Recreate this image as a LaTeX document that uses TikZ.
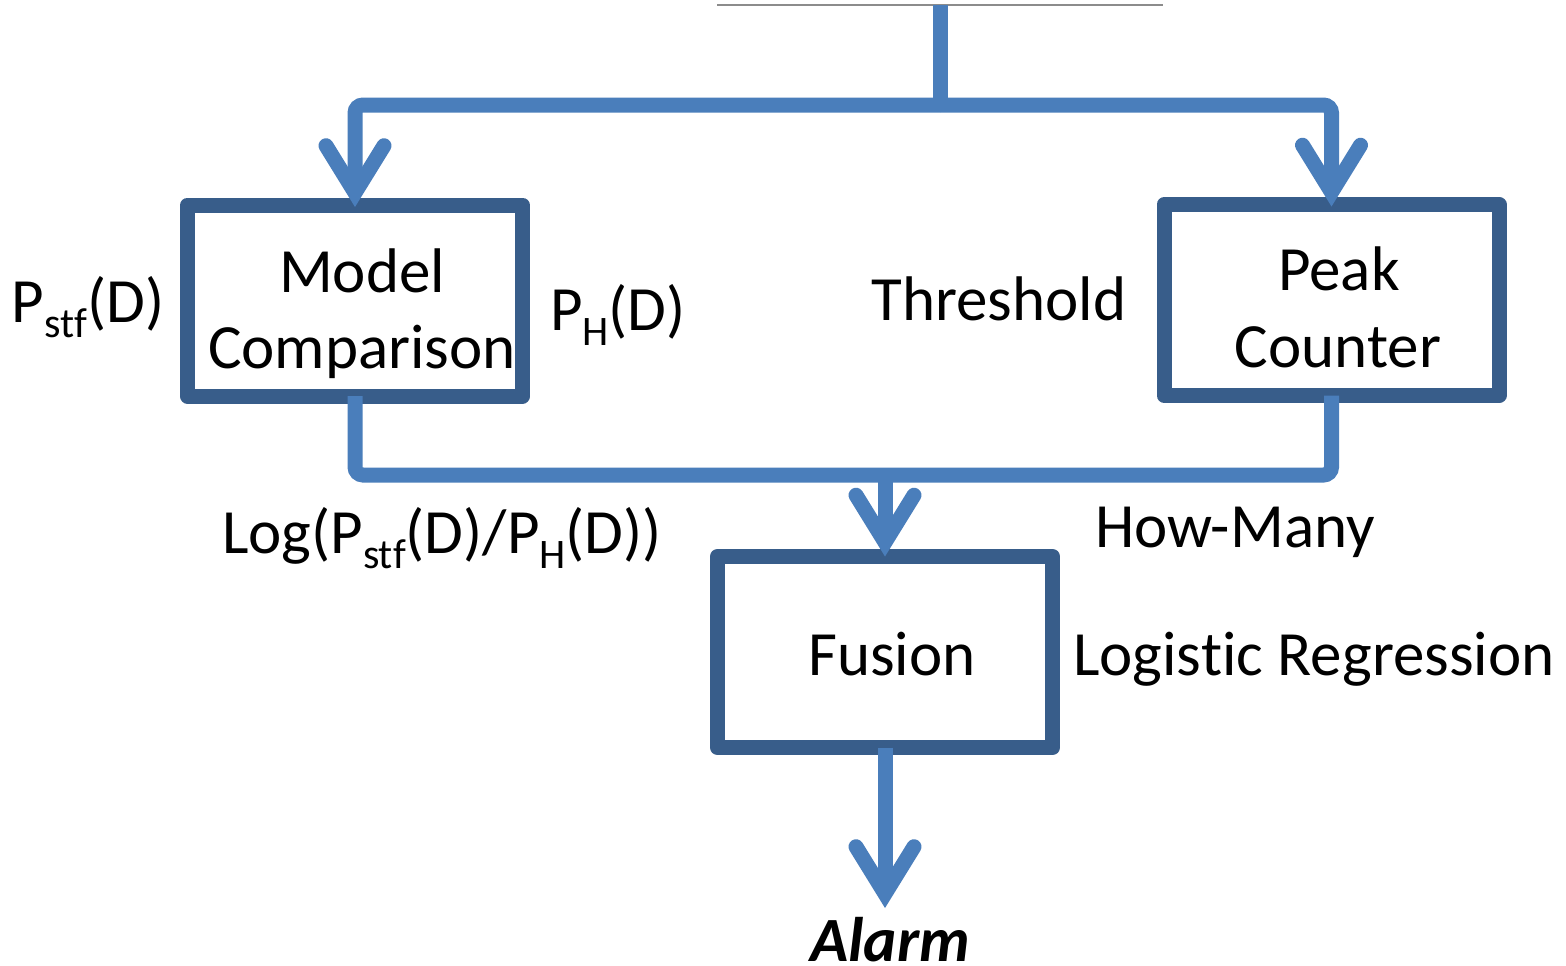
\documentclass[tikz,border=0pt]{standalone}
\usepackage{fontspec}
\setmainfont[Ligatures=NoCommon,RawFeature={-liga;-clig;-calt;-dlig}]{Carlito}
\usetikzlibrary{arrows.meta}
\definecolor{conncol}{HTML}{4A7EBB}
\definecolor{boxcol}{HTML}{385D8A}
\definecolor{topgray}{HTML}{8C8C8C}
\newcommand\mysub[1]{\raisebox{-15pt}{\fontsize{42}{50}\selectfont #1}}
\begin{document}
\begin{tikzpicture}[x=1pt,y=-1pt,
  box/.style={draw=boxcol, line width=15pt, line join=round, rectangle, inner sep=0pt, outer sep=0pt, minimum width=335pt, minimum height=191pt},
  conn/.style={draw=conncol, line width=15pt, rounded corners=8pt},
  tipped/.style={-{Straight Barb[length=47pt,width=58pt,line cap=round,line join=miter]}},
  txt/.style={font=\fontsize{63}{76}\selectfont, inner sep=0pt, outer sep=0pt},
  topline/.style={draw=topgray, line width=2pt}]
\useasboundingbox (0,0) rectangle (1566,966);
\fill[white] (0,0) rectangle (1566,966);
% boxes
\node[box] (mc) at (355,300.5) {};
\node[box] (pc) at (1331.5,300) {};
\node[box] (fu) at (885,652) {};
% coordinates
\coordinate (tl) at (717,5);
\coordinate (tr) at (1163,5);
\coordinate (src) at (940,5);
\coordinate (split) at (940,105);
\coordinate (fj) at (885,475);
\coordinate (alarmtip) at (885,908);
% lines
\draw[topline] (tl) -- (tr);
\draw[conn] (src) -- (split);
\draw[conn,tipped] (split) -| ([yshift=-2pt]mc.north);
\draw[conn,tipped] (split) -| ([yshift=-2pt]pc.north);
\draw[conn] (mc.south) -- ++(0,79) -| (pc.south);
\draw[conn,tipped] (fj) -- (fu.north);
\draw[conn,tipped] (fu.south) -- (alarmtip);
% texts
\node[txt,anchor=base west] (pstf) at (12,322) {P\mysub{st\kern0ptf}(D)};
\node[txt,anchor=base] (mc1) at (362,292) {Model};
\node[txt,anchor=base] (mc2) at (362,368) {Comparison};
\node[txt,anchor=base west] (ph) at (550,330) {P\mysub{H}(D)};
\node[txt,anchor=base] (thr) at (999,320) {Threshold};
\node[txt,anchor=base] (pc1) at (1339,290) {Peak};
\node[txt,anchor=base] (pc2) at (1338,367) {Counter};
\node[txt,anchor=base west] (logr) at (222,553) {Log(P\mysub{st\kern0ptf}(D)/P\mysub{H}(D))};
\node[txt,anchor=base west] (hm) at (1095,547) {How-Many};
\node[txt,anchor=base] (fus) at (892,675) {Fusion};
\node[txt,anchor=base west] (lr) at (1073,675) {Logis\kern0ptt\kern0ptic Regression};
\node[txt,anchor=base,font=\fontsize{63}{76}\selectfont\bfseries\itshape] (alarm) at (890,961) {Alarm};
\end{tikzpicture}
\end{document}
